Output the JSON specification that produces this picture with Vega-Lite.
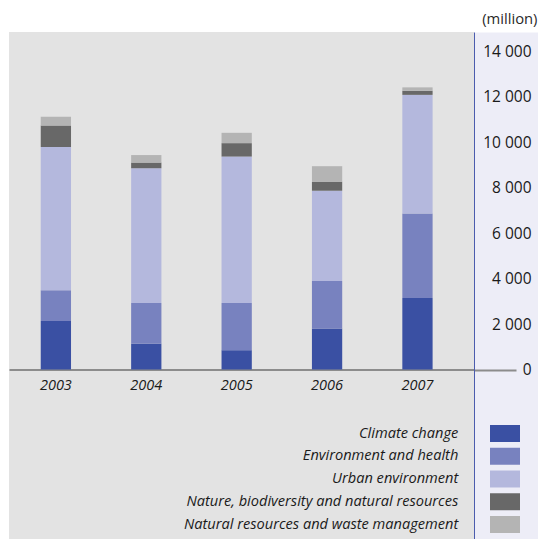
{
  "$schema": "https://vega.github.io/schema/vega-lite/v6.json",
  "width": 465,
  "height": 507,
  "autosize": "none",
  "padding": {"left": 9, "top": 32, "right": 64, "bottom": 0},
  "background": "white",
  "data": {
    "values": [
      {"year": "2003", "category": "Climate change", "rank": 1, "value": 2130},
      {"year": "2003", "category": "Environment and health", "rank": 2, "value": 1360},
      {"year": "2003", "category": "Urban environment", "rank": 3, "value": 6310},
      {"year": "2003", "category": "Nature, biodiversity and natural resources", "rank": 4, "value": 940},
      {"year": "2003", "category": "Natural resources and waste management", "rank": 5, "value": 390},
      {"year": "2004", "category": "Climate change", "rank": 1, "value": 1135},
      {"year": "2004", "category": "Environment and health", "rank": 2, "value": 1795},
      {"year": "2004", "category": "Urban environment", "rank": 3, "value": 5930},
      {"year": "2004", "category": "Nature, biodiversity and natural resources", "rank": 4, "value": 250},
      {"year": "2004", "category": "Natural resources and waste management", "rank": 5, "value": 330},
      {"year": "2005", "category": "Climate change", "rank": 1, "value": 850},
      {"year": "2005", "category": "Environment and health", "rank": 2, "value": 2080},
      {"year": "2005", "category": "Urban environment", "rank": 3, "value": 6445},
      {"year": "2005", "category": "Nature, biodiversity and natural resources", "rank": 4, "value": 590},
      {"year": "2005", "category": "Natural resources and waste management", "rank": 5, "value": 455},
      {"year": "2006", "category": "Climate change", "rank": 1, "value": 1810},
      {"year": "2006", "category": "Environment and health", "rank": 2, "value": 2090},
      {"year": "2006", "category": "Urban environment", "rank": 3, "value": 3970},
      {"year": "2006", "category": "Nature, biodiversity and natural resources", "rank": 4, "value": 400},
      {"year": "2006", "category": "Natural resources and waste management", "rank": 5, "value": 680},
      {"year": "2007", "category": "Climate change", "rank": 1, "value": 3150},
      {"year": "2007", "category": "Environment and health", "rank": 2, "value": 3720},
      {"year": "2007", "category": "Urban environment", "rank": 3, "value": 5220},
      {"year": "2007", "category": "Nature, biodiversity and natural resources", "rank": 4, "value": 180},
      {"year": "2007", "category": "Natural resources and waste management", "rank": 5, "value": 150}
    ]
  },
  "layer": [
    {
      "mark": {"type": "bar"},
      "encoding": {
        "x": {
          "field": "year",
          "type": "nominal",
          "scale": {"paddingInner": 0.665, "paddingOuter": 0.4045, "align": 0.434},
          "axis": {
            "title": null,
            "orient": "bottom",
            "offset": -169.5,
            "domainColor": "#8c8c8c",
            "domainWidth": 2,
            "ticks": false,
            "tickSize": 0,
            "labelAngle": 0,
            "labelPadding": 15.5,
            "labelBaseline": "middle",
            "labelFont": "Open Sans",
            "labelFontStyle": "italic",
            "labelFontSize": 14.5,
            "labelColor": "#1a1a1a",
            "grid": false
          }
        },
        "y": {
          "field": "value",
          "type": "quantitative",
          "stack": "zero",
          "scale": {"domain": [-7462, 14858], "nice": false, "zero": false},
          "axis": {
            "orient": "right",
            "zindex": 1,
            "values": [0, 2000, 4000, 6000, 8000, 10000, 12000, 14000],
            "labelExpr": "replace(format(datum.value, ','), ',', ' ')",
            "domainColor": "#4b5cae",
            "domainWidth": 1,
            "grid": false,
            "tickSize": 42,
            "tickWidth": 2,
            "tickColor": "#8c8c8c",
            "tickOpacity": {"condition": {"test": "datum.value === 0", "value": 1}, "value": 0},
            "labelAlign": "right",
            "labelPadding": 15,
            "labelBaseline": "middle",
            "labelFont": "Open Sans",
            "labelFontSize": 15.5,
            "labelColor": "#1a1a1a",
            "title": "(million)",
            "titleAngle": 0,
            "titleX": 63,
            "titleY": -13,
            "titleAlign": "right",
            "titleBaseline": "middle",
            "titleFont": "Open Sans",
            "titleFontSize": 14.8,
            "titleFontWeight": "normal",
            "titleColor": "#2a2a2a"
          }
        },
        "color": {
          "field": "category",
          "type": "nominal",
          "scale": {
            "domain": ["Climate change", "Environment and health", "Urban environment", "Nature, biodiversity and natural resources", "Natural resources and waste management"],
            "range": ["#3a50a3", "#7882bf", "#b4b8dd", "#686868", "#b4b4b4"]
          },
          "legend": {
            "orient": "none",
            "legendX": 487.5,
            "legendY": 393,
            "title": null,
            "padding": 0,
            "symbolType": "M-1.765,-1H1.765V1H-1.765Z",
            "symbolSize": 289,
            "symbolStrokeWidth": 0,
            "symbolOpacity": 1,
            "labelAlign": "right",
            "labelBaseline": "middle",
            "labelOffset": -55.2,
            "labelFont": "Open Sans",
            "labelFontStyle": "italic",
            "labelFontSize": 14.6,
            "labelColor": "#1a1a1a",
            "labelLimit": 400,
            "rowPadding": 5.75
          }
        },
        "order": {"field": "rank", "type": "quantitative", "sort": "ascending"}
      }
    },
    {
      "mark": {"type": "rule", "opacity": 0},
      "encoding": {
        "y": {
          "datum": 0,
          "type": "quantitative",
          "axis": {
            "orient": "right",
            "zindex": 0,
            "offset": 32,
            "domainColor": "#ededf7",
            "domainWidth": 64,
            "labels": false,
            "ticks": false,
            "grid": false,
            "title": null
          }
        }
      }
    }
  ],
  "resolve": {"axis": {"y": "independent"}},
  "config": {
    "view": {"fill": "#e3e3e3", "stroke": null}
  }
}
